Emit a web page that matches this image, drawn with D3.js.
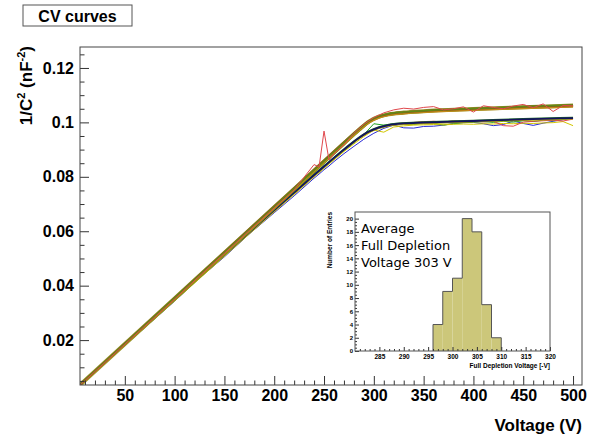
<!DOCTYPE html>
<html>
<head>
<meta charset="utf-8">
<script src="https://cdn.jsdelivr.net/npm/d3@7"></script>
<style>
body{margin:0;background:#fff}
svg{display:block}
</style>
</head>
<body>
<svg id="drawing_region"></svg>
<script>
// measured CV points, shared voltage grid
const voltage = [5,25,50,75,100,125,150,175,200,220,240,245,250,255,260,270,280,290,300,310,320,330,340,350,360,370,380,390,400,410,420,430,440,450,460,470,480,490,500];

const redUp = [0.0035,0.0101,0.0185,0.0268,0.0351,0.0436,0.0519,0.0603,0.0686,0.0752,0.0845,0.0836,0.0968,0.0862,0.0885,0.0918,0.0960,0.0993,0.1018,0.1035,0.1046,0.1052,0.1049,0.1055,0.1058,0.1046,0.1050,0.1057,0.1038,0.1061,0.1055,0.1050,0.1060,0.1066,0.1054,0.1068,0.1040,0.1062,0.1061];
const blueUp = [0.0035,0.0101,0.0184,0.0268,0.0350,0.0434,0.0517,0.0601,0.0684,0.0750,0.0818,0.0834,0.0851,0.0868,0.0884,0.0918,0.0952,0.0985,0.1010,0.1026,0.1034,0.1037,0.1040,0.1042,0.1043,0.1045,0.1044,0.1047,0.1049,0.1050,0.1051,0.1053,0.1052,0.1055,0.1056,0.1057,0.1058,0.1060,0.1061];
const orangeUp = [0.0035,0.0102,0.0187,0.0271,0.0355,0.0439,0.0523,0.0607,0.0690,0.0757,0.0824,0.0841,0.0858,0.0875,0.0891,0.0925,0.0958,0.0991,0.1014,0.1029,0.1036,0.1040,0.1041,0.1044,0.1046,0.1047,0.1049,0.1050,0.1052,0.1053,0.1054,0.1056,0.1057,0.1058,0.1059,0.1060,0.1061,0.1062,0.1064];
const blueLo = [0.0035,0.0098,0.0180,0.0262,0.0343,0.0428,0.0506,0.0590,0.0668,0.0730,0.0795,0.0810,0.0826,0.0840,0.0856,0.0885,0.0912,0.0938,0.0960,0.0978,0.0990,0.0980,0.0979,0.0985,0.0986,0.0990,0.0996,0.0999,0.1000,0.0995,0.0988,0.0992,0.1005,0.0996,0.0989,0.0997,0.1004,0.1010,0.1017];
const greenLo = [0.0035,0.0100,0.0182,0.0265,0.0346,0.0430,0.0511,0.0594,0.0674,0.0738,0.0803,0.0818,0.0834,0.0850,0.0865,0.0895,0.0925,0.0955,0.0995,0.0990,0.0993,0.0996,0.0992,0.0998,0.0997,0.0990,0.0995,0.0999,0.1001,0.1003,0.1000,0.1004,0.1001,0.1006,0.1003,0.1008,0.1006,0.1011,0.1014];
const yellowLo = [0.0035,0.0099,0.0181,0.0262,0.0344,0.0426,0.0508,0.0590,0.0671,0.0735,0.0800,0.0815,0.0831,0.0847,0.0862,0.0893,0.0921,0.0948,0.0972,0.0964,0.0983,0.0987,0.0990,0.0991,0.0992,0.0991,0.0993,0.0994,0.0993,0.0995,0.0994,0.0996,0.0995,0.0997,0.0996,0.0998,0.0999,0.1003,0.0988];
const redLo = [0.0035,0.0100,0.0183,0.0265,0.0347,0.0431,0.0513,0.0596,0.0677,0.0741,0.0806,0.0822,0.0838,0.0853,0.0868,0.0899,0.0928,0.0953,0.0973,0.0986,0.0994,0.0998,0.1000,0.1003,0.1004,0.1001,0.1006,0.1003,0.1005,0.1002,0.1004,0.0988,0.0986,0.1001,0.1004,0.1006,0.1008,0.1005,0.1012];

// fitted curves, coarser grid
const fitVoltage = [5,100,200,250,270,285,295,305,315,330,350,400,450,500];
const fitUpA = [0.0035,0.0353,0.0688,0.0856,0.0923,0.0973,0.1003,0.1021,0.1030,0.1036,0.1041,0.1049,0.1056,0.1062];
const fitUpB = [0.0036,0.0356,0.0692,0.0860,0.0927,0.0976,0.1005,0.1022,0.1031,0.1037,0.1042,0.1050,0.1057,0.1063];
const fitUpC = [0.0035,0.0350,0.0684,0.0852,0.0919,0.0969,0.1000,0.1019,0.1028,0.1034,0.1039,0.1047,0.1054,0.1060];
const fitUpD = [0.0034,0.0352,0.0686,0.0854,0.0920,0.0970,0.0999,0.1017,0.1027,0.1033,0.1038,0.1046,0.1052,0.1058];
const fitUpE = [0.0036,0.0355,0.0690,0.0858,0.0925,0.0975,0.1004,0.1023,0.1032,0.1038,0.1043,0.1051,0.1058,0.1064];
const fitLoA = [0.0035,0.0350,0.0678,0.0838,0.0900,0.0943,0.0966,0.0981,0.0990,0.0996,0.0999,0.1005,0.1011,0.1016];
const fitLoB = [0.0035,0.0348,0.0676,0.0836,0.0898,0.0941,0.0963,0.0978,0.0987,0.0993,0.0996,0.1002,0.1008,0.1013];
const fitLoC = [0.0035,0.0351,0.0680,0.0840,0.0902,0.0945,0.0968,0.0983,0.0992,0.0998,0.1001,0.1007,0.1013,0.1018];

const xTickValues = [50,100,150,200,250,300,350,400,450,500];
const yTickValues = [0.02,0.04,0.06,0.08,0.1,0.12];

// inset histogram of full depletion voltage
const histEdges = [296,298,300,302,304,306,308,310];
const histCounts = [4,9,11,20,18,7,2];
const histXTicks = [285,290,295,300,305,310,315,320];
const histYTicks = [0,2,4,6,8,10,12,14,16,18,20];
const insetLines = ["Average","Full Depletion","Voltage 303 V"];

const measured = [
    {v:voltage, c:blueLo, color:"#2b2bd6", w:1},
    {v:voltage, c:greenLo, color:"#1fa51f", w:1},
    {v:voltage, c:yellowLo, color:"#d2c600", w:1},
    {v:voltage, c:redLo, color:"#e0474c", w:1},
    {v:voltage, c:blueUp, color:"#2b2bd6", w:1},
    {v:voltage, c:orangeUp, color:"#e38a10", w:1}
];
const fits = [
    {v:fitVoltage, c:fitLoB, color:"#b5ad10", w:1.5},
    {v:fitVoltage, c:fitLoC, color:"#1e6a2a", w:1.5},
    {v:fitVoltage, c:fitLoA, color:"#14145e", w:1.8},
    {v:fitVoltage, c:fitUpA, color:"#9a9630", w:4},
    {v:fitVoltage, c:fitUpC, color:"#6e9a12", w:2},
    {v:fitVoltage, c:fitUpD, color:"#c48a18", w:2},
    {v:fitVoltage, c:fitUpB, color:"#8a5c1c", w:2},
    {v:fitVoltage, c:fitUpE, color:"#5f8a16", w:1.5}
];
const overlay = [
    {v:voltage, c:redUp, color:"#e0474c", w:1}
];

const W = 598, H = 435;
const frame = {left:80, right:582, top:47, bottom:385};
const FONT = "'Liberation Sans', Arial, sans-serif";

const svg = d3.select("#drawing_region").attr("width",W).attr("height",H);

const xscale = d3.scaleLinear().domain([5,509]).range([frame.left,frame.right]);
const yscale = d3.scaleLinear().domain([0.0035,0.1277]).range([frame.bottom,frame.top]);

svg.append("defs").append("clipPath").attr("id","clip")
    .append("rect")
    .attr("x",frame.left).attr("y",frame.top)
    .attr("width",frame.right-frame.left).attr("height",frame.bottom-frame.top);

// curves
const line = d3.line().x(d=>xscale(d[0])).y(d=>yscale(d[1]));
const fitLine = d3.line().x(d=>xscale(d[0])).y(d=>yscale(d[1])).curve(d3.curveMonotoneX);
const curves = svg.append("g").attr("clip-path","url(#clip)");
function drawSet(set, gen){
    set.forEach(s=>{
        curves.append("path")
            .attr("d",gen(s.v.map((v,i)=>[v,s.c[i]])))
            .attr("fill","none")
            .attr("stroke",s.color)
            .attr("stroke-width",s.w)
            .attr("stroke-linejoin","round");
    });
}
drawSet(measured,line);
drawSet(fits,fitLine);
drawSet(overlay,line);

// axes (ROOT style, ticks inside)
function styleAxis(g,size){
    g.select(".domain").remove();
    g.selectAll("line").attr("stroke","#333");
    g.selectAll("text").attr("font-family",FONT).attr("font-weight","bold")
        .attr("font-size",size).attr("fill","#000");
}
const xMajor = svg.append("g").attr("transform",`translate(0,${frame.bottom})`)
    .call(d3.axisBottom(xscale).tickValues(xTickValues).tickSizeInner(-9).tickSizeOuter(0).tickPadding(5).tickFormat(d3.format("d")));
styleAxis(xMajor,16);
const xMinor = svg.append("g").attr("transform",`translate(0,${frame.bottom})`)
    .call(d3.axisBottom(xscale).tickValues(d3.range(10,510,10).filter(v=>v%50)).tickSizeInner(-4.5).tickSizeOuter(0).tickFormat(""));
styleAxis(xMinor,1);

const yMajor = svg.append("g").attr("transform",`translate(${frame.left},0)`)
    .call(d3.axisLeft(yscale).tickValues(yTickValues).tickSizeInner(-9).tickSizeOuter(0).tickPadding(6).tickFormat(d3.format("~g")));
styleAxis(yMajor,16);
const yMinor = svg.append("g").attr("transform",`translate(${frame.left},0)`)
    .call(d3.axisLeft(yscale).tickValues(d3.range(1,26).map(i=>i*0.005).filter((v,i)=>(i+1)%4)).tickSizeInner(-4.5).tickSizeOuter(0).tickFormat(""));
styleAxis(yMinor,1);

svg.append("rect")
    .attr("x",frame.left).attr("y",frame.top)
    .attr("width",frame.right-frame.left).attr("height",frame.bottom-frame.top)
    .attr("fill","none").attr("stroke","#444").attr("stroke-width",1);

// axis titles
svg.append("text")
    .attr("x",frame.right).attr("y",431)
    .attr("text-anchor","end")
    .attr("font-family",FONT).attr("font-weight","bold").attr("font-size",17)
    .text("Voltage (V)");

const ylab = svg.append("text")
    .attr("transform",`translate(32,${frame.top-1}) rotate(-90)`)
    .attr("text-anchor","end")
    .attr("font-family",FONT).attr("font-weight","bold").attr("font-size",17);
ylab.append("tspan").text("1/C");
ylab.append("tspan").attr("font-size",11).attr("dy",-7).text("2");
ylab.append("tspan").attr("dy",7).text(" (nF");
ylab.append("tspan").attr("font-size",11).attr("dy",-7).text("-2");
ylab.append("tspan").attr("dy",7).text(")");

// title box
svg.append("rect")
    .attr("x",23).attr("y",5).attr("width",109).attr("height",21)
    .attr("fill","#fff").attr("stroke","#555");
svg.append("text")
    .attr("x",77.5).attr("y",21.5)
    .attr("text-anchor","middle")
    .attr("font-family",FONT).attr("font-weight","bold").attr("font-size",16)
    .text("CV curves");

// inset histogram
const inset = {left:355, right:550, top:212, bottom:351};
const hx = d3.scaleLinear().domain([280,320]).range([inset.left,inset.right]);
const hy = d3.scaleLinear().domain([0,21]).range([inset.bottom,inset.top]);

svg.append("rect")
    .attr("x",inset.left).attr("y",inset.top)
    .attr("width",inset.right-inset.left).attr("height",inset.bottom-inset.top)
    .attr("fill","#fff");

svg.append("g").selectAll("rect")
    .data(histCounts)
    .enter()
    .append("rect")
    .attr("x",(d,i)=>hx(histEdges[i]))
    .attr("y",d=>hy(d))
    .attr("width",(d,i)=>hx(histEdges[i+1])-hx(histEdges[i]))
    .attr("height",d=>hy(0)-hy(d))
    .attr("fill","#ccc77a");

const stepPts = [[histEdges[0],0]];
histCounts.forEach((c,i)=>{ stepPts.push([histEdges[i],c]); stepPts.push([histEdges[i+1],c]); });
stepPts.push([histEdges[histEdges.length-1],0]);
svg.append("path")
    .attr("d",d3.line().x(d=>hx(d[0])).y(d=>hy(d[1]))(stepPts))
    .attr("fill","none").attr("stroke","#555").attr("stroke-width",1);

const hxMajor = svg.append("g").attr("transform",`translate(0,${inset.bottom})`)
    .call(d3.axisBottom(hx).tickValues(histXTicks).tickSizeInner(-4).tickSizeOuter(0).tickPadding(3));
styleAxis(hxMajor,6.5);
const hxMinor = svg.append("g").attr("transform",`translate(0,${inset.bottom})`)
    .call(d3.axisBottom(hx).tickValues(d3.range(281,320).filter(v=>v%5)).tickSizeInner(-2).tickSizeOuter(0).tickFormat(""));
styleAxis(hxMinor,1);
const hyMajor = svg.append("g").attr("transform",`translate(${inset.left},0)`)
    .call(d3.axisLeft(hy).tickValues(histYTicks).tickSizeInner(-4).tickSizeOuter(0).tickPadding(2));
styleAxis(hyMajor,6);
const hyMinor = svg.append("g").attr("transform",`translate(${inset.left},0)`)
    .call(d3.axisLeft(hy).tickValues(d3.range(1,41).map(i=>i*0.5).filter(v=>v%2)).tickSizeInner(-2).tickSizeOuter(0).tickFormat(""));
styleAxis(hyMinor,1);

svg.append("rect")
    .attr("x",inset.left).attr("y",inset.top)
    .attr("width",inset.right-inset.left).attr("height",inset.bottom-inset.top)
    .attr("fill","none").attr("stroke","#555").attr("stroke-width",1);

svg.append("text")
    .attr("x",inset.right).attr("y",368)
    .attr("text-anchor","end")
    .attr("font-family",FONT).attr("font-weight","bold").attr("font-size",6.5)
    .text("Full Depletion Voltage [-V]");
svg.append("text")
    .attr("transform",`translate(332,${inset.top}) rotate(-90)`)
    .attr("text-anchor","end")
    .attr("font-family",FONT).attr("font-weight","bold").attr("font-size",6.5)
    .text("Number of Entries");

svg.append("g").selectAll("text")
    .data(insetLines)
    .enter()
    .append("text")
    .attr("x",361)
    .attr("y",(d,i)=>233+i*17)
    .attr("font-family","'DejaVu Sans', sans-serif")
    .attr("font-size",13)
    .text(d=>d);
</script>
</body>
</html>
